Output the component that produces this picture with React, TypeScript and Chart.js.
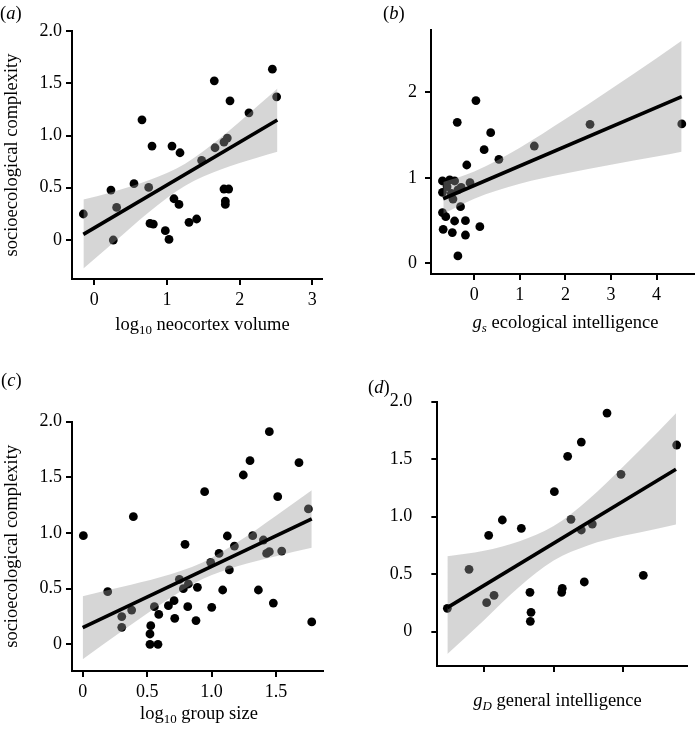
import React, { useEffect, useRef } from 'react';
import { Chart, registerables } from 'chart.js';

Chart.register(...registerables);

const SERIF = '"Liberation Serif", "Times New Roman", serif';
const TICK_SIZE = 18;
const TITLE_SIZE = 18.5;

// ---------- panel (a) ----------
const aPointsX = [-0.151, 0.229, 0.261, 0.307, 0.546, 0.656, 0.748, 0.794, 0.766, 0.812, 0.977, 1.028, 1.069, 1.096, 1.165, 1.179, 1.303, 1.408, 1.477, 1.651, 1.661, 1.784, 1.83, 1.784, 1.849, 1.803, 1.803, 1.867, 2.128, 2.45, 2.509];
const aPointsY = [0.249, 0.478, 0.0, 0.312, 0.539, 1.15, 0.503, 0.899, 0.159, 0.153, 0.089, 0.006, 0.899, 0.395, 0.341, 0.835, 0.169, 0.201, 0.762, 1.523, 0.883, 0.937, 0.975, 0.488, 0.488, 0.373, 0.341, 1.332, 1.217, 1.635, 1.37];
const aBandX = [-0.15, 0.25, 0.75, 1.25, 1.75, 2.25, 2.52];
const aBandUpper = [0.387, 0.46, 0.572, 0.73, 0.985, 1.284, 1.451];
const aBandLower = [-0.273, -0.034, 0.266, 0.52, 0.677, 0.79, 0.845];
const aFitX = [-0.151, 2.518];
const aFitY = [0.054, 1.148];
const aXTicks = [0, 1, 2, 3];
const aXLabels = ['0', '1', '2', '3'];
const aYTicks = [0, 0.5, 1, 1.5, 2];
const aYLabels = ['0', '0.5', '1.0', '1.5', '2.0'];

// ---------- panel (b) ----------
const bPointsX = [0.036, -0.374, 0.36, 0.216, -0.165, 0.54, 1.317, 2.54, 4.554, -0.698, -0.54, -0.432, -0.698, -0.597, -0.504, -0.468, -0.36, -0.288, -0.094, -0.302, -0.698, -0.626, -0.432, -0.194, -0.683, -0.482, -0.194, 0.122, -0.36];
const bPointsY = [1.903, 1.649, 1.528, 1.329, 1.15, 1.216, 1.372, 1.626, 1.63, 0.963, 0.975, 0.963, 0.83, 0.897, 0.819, 0.752, 0.858, 0.889, 0.943, 0.663, 0.593, 0.546, 0.495, 0.499, 0.398, 0.359, 0.331, 0.429, 0.086];
const bBandX = [-0.68, 0, 1, 2, 3, 4, 4.55];
const bBandUpper = [0.95, 1.074, 1.353, 1.688, 2.04, 2.398, 2.602];
const bBandLower = [0.58, 0.756, 0.931, 1.05, 1.152, 1.248, 1.304];
const bFitX = [-0.683, 4.554];
const bFitY = [0.755, 1.949];
const bXTicks = [0, 1, 2, 3, 4];
const bXLabels = ['0', '1', '2', '3', '4'];
const bYTicks = [0, 1, 2];
const bYLabels = ['0', '1', '2'];

// ---------- panel (c) ----------
const cPointsX = [0.005, 0.194, 0.303, 0.303, 0.38, 0.393, 0.522, 0.528, 0.522, 0.584, 0.556, 0.59, 0.665, 0.709, 0.714, 0.75, 0.781, 0.794, 0.815, 0.82, 0.89, 0.879, 0.946, 0.993, 1.001, 1.058, 1.086, 1.122, 1.138, 1.177, 1.246, 1.298, 1.319, 1.363, 1.402, 1.427, 1.448, 1.448, 1.479, 1.513, 1.544, 1.678, 1.751, 1.777];
const cPointsY = [0.976, 0.473, 0.249, 0.153, 0.308, 1.147, 0.093, 0.168, 0.0, 0.0, 0.338, 0.269, 0.347, 0.392, 0.234, 0.584, 0.5, 0.898, 0.338, 0.542, 0.512, 0.213, 1.371, 0.737, 0.332, 0.817, 0.488, 0.973, 0.668, 0.883, 1.521, 1.65, 0.976, 0.488, 0.937, 0.817, 1.91, 0.832, 0.371, 1.326, 0.838, 1.632, 1.216, 0.201];
const cBandX = [0, 0.3, 0.6, 0.93, 1.2, 1.5, 1.777];
const cBandUpper = [0.433, 0.515, 0.602, 0.736, 0.917, 1.156, 1.385];
const cBandLower = [-0.133, 0.115, 0.356, 0.586, 0.701, 0.792, 0.867];
const cFitX = [0, 1.777];
const cFitY = [0.15, 1.126];
const cXTicks = [0, 0.5, 1, 1.5];
const cXLabels = ['0', '0.5', '1.0', '1.5'];
const cYTicks = [0, 0.5, 1, 1.5, 2];
const cYLabels = ['0', '0.5', '1.0', '1.5', '2.0'];

// ---------- panel (d) ----------
const dPointsX = [-1.526, -1.215, -0.962, -0.856, -0.933, -0.737, -0.464, -0.34, -0.325, -0.335, 0.01, 0.115, 0.124, 0.201, 0.249, 0.397, 0.397, 0.44, 0.555, 0.766, 0.967, 1.287, 1.766];
const dPointsY = [0.203, 0.542, 0.252, 0.316, 0.838, 0.971, 0.899, 0.342, 0.168, 0.09, 1.217, 0.342, 0.377, 1.525, 0.977, 1.649, 0.884, 0.432, 0.936, 1.901, 1.368, 0.49, 1.623];
const dBandX = [-1.526, -1, -0.5, 0, 0.5, 1, 1.5, 1.756];
const dBandUpper = [0.655, 0.703, 0.784, 0.918, 1.15, 1.437, 1.738, 1.9];
const dBandLower = [-0.195, 0.1, 0.386, 0.618, 0.752, 0.833, 0.898, 0.932];
const dFitX = [-1.526, 1.756];
const dFitY = [0.209, 1.412];
const dXTicks = [-1, 0, 1];
const dXLabels = ['', '', ''];
const dYTicks = [0, 0.5, 1, 1.5, 2];
const dYLabels = ['0', '0.5', '1.0', '1.5', '2.0'];

type PanelCfg = {
  left: number; top: number; width: number; height: number;
  padTop: number; padRight: number; yWidth: number; xHeight: number;
  xMin: number; xMax: number; yMin: number; yMax: number;
  xTicks: number[]; xLabels: string[]; yTicks: number[]; yLabels: string[];
  xTickPad: number; yTickPad: number; yTitle?: string;
  px: number[]; py: number[]; bandX: number[]; bandU: number[]; bandL: number[];
  fitX: number[]; fitY: number[];
};

const panels: PanelCfg[] = [
  {
    left: 0, top: 0, width: 340, height: 345, padTop: 31, padRight: 18, yWidth: 72, xHeight: 66,
    xMin: -0.307, xMax: 3.133, yMin: -0.373, yMax: 2.0,
    xTicks: aXTicks, xLabels: aXLabels, yTicks: aYTicks, yLabels: aYLabels,
    xTickPad: 4.5, yTickPad: 4, yTitle: 'socioecological complexity',
    px: aPointsX, py: aPointsY, bandX: aBandX, bandU: aBandUpper, bandL: aBandLower, fitX: aFitX, fitY: aFitY,
  },
  {
    left: 350, top: 0, width: 348, height: 345, padTop: 30, padRight: 0, yWidth: 81, xHeight: 71,
    xMin: -0.95, xMax: 4.813, yMin: -0.125, yMax: 2.729,
    xTicks: bXTicks, xLabels: bXLabels, yTicks: bYTicks, yLabels: bYLabels,
    xTickPad: 4.5, yTickPad: 8,
    px: bPointsX, py: bPointsY, bandX: bBandX, bandU: bBandUpper, bandL: bBandLower, fitX: bFitX, fitY: bFitY,
  },
  {
    left: 0, top: 360, width: 340, height: 375, padTop: 61.67, padRight: 17.3, yWidth: 72, xHeight: 64,
    xMin: -0.083, xMax: 1.862, yMin: -0.2395, yMax: 2.0,
    xTicks: cXTicks, xLabels: cXLabels, yTicks: cYTicks, yLabels: cYLabels,
    xTickPad: 4.2, yTickPad: 4, yTitle: 'socioecological complexity',
    px: cPointsX, py: cPointsY, bandX: cBandX, bandU: cBandUpper, bandL: cBandLower, fitX: cFitX, fitY: cFitY,
  },
  {
    left: 350, top: 360, width: 348, height: 375, padTop: 41.67, padRight: 10.67, yWidth: 87.33, xHeight: 69,
    xMin: -1.67, xMax: 1.919, yMin: -0.2986, yMax: 2.0,
    xTicks: dXTicks, xLabels: dXLabels, yTicks: dYTicks, yLabels: dYLabels,
    xTickPad: 5, yTickPad: 19,
    px: dPointsX, py: dPointsY, bandX: dBandX, bandU: dBandUpper, bandL: dBandLower, fitX: dFitX, fitY: dFitY,
  },
];

function Panel({ cfg }: { cfg: PanelCfg }) {
  const ref = useRef<HTMLCanvasElement>(null);
  useEffect(() => {
    const canvas = ref.current;
    if (!canvas) return;
    const pts = (xs: number[], ys: number[]) => xs.map((x, i) => ({ x, y: ys[i] }));
    const axisCommon = {
      grid: { drawOnChartArea: false, drawTicks: true, tickLength: 6, color: '#000', lineWidth: 2 },
      border: { display: true, color: '#000', width: 2 },
    };
    const chart = new Chart(canvas, {
      type: 'line',
      data: {
        datasets: [
          {
            label: 'fit', data: pts(cfg.fitX, cfg.fitY), borderColor: '#000', borderWidth: 3.6,
            pointRadius: 0, fill: false, borderCapStyle: 'butt',
          },
          {
            label: 'lower', data: pts(cfg.bandX, cfg.bandL), borderColor: 'rgba(0,0,0,0)', borderWidth: 0,
            pointRadius: 0, fill: false, cubicInterpolationMode: 'monotone',
          },
          {
            label: 'upper', data: pts(cfg.bandX, cfg.bandU), borderColor: 'rgba(0,0,0,0)', borderWidth: 0,
            pointRadius: 0, fill: '-1', backgroundColor: 'rgba(153,153,153,0.4)', cubicInterpolationMode: 'monotone',
          },
          {
            label: 'points', data: pts(cfg.px, cfg.py), showLine: false, pointRadius: 4.4,
            pointBackgroundColor: '#000', pointBorderColor: '#000', pointBorderWidth: 0,
          },
        ] as any,
      },
      options: {
        animation: false,
        responsive: false,
        maintainAspectRatio: false,
        events: [],
        layout: { padding: { top: cfg.padTop, right: cfg.padRight, left: 0, bottom: 0 } },
        plugins: { legend: { display: false }, tooltip: { enabled: false } },
        scales: {
          x: {
            type: 'linear', position: 'bottom', min: cfg.xMin, max: cfg.xMax,
            afterBuildTicks: (s: any) => { s.ticks = cfg.xTicks.map((v) => ({ value: v })); },
            afterFit: (s: any) => { s.height = cfg.xHeight; },
            ticks: {
              callback: (_v: any, i: number) => cfg.xLabels[i],
              color: '#000', font: { family: SERIF, size: TICK_SIZE }, padding: cfg.xTickPad,
              autoSkip: false, maxRotation: 0, minRotation: 0,
            },
            ...axisCommon,
          },
          y: {
            type: 'linear', position: 'left', min: cfg.yMin, max: cfg.yMax,
            afterBuildTicks: (s: any) => { s.ticks = cfg.yTicks.map((v) => ({ value: v })); },
            afterFit: (s: any) => { s.width = cfg.yWidth; },
            ticks: {
              callback: (_v: any, i: number) => cfg.yLabels[i],
              color: '#000', font: { family: SERIF, size: TICK_SIZE }, padding: cfg.yTickPad,
              autoSkip: false,
            },
            title: cfg.yTitle
              ? { display: true, text: cfg.yTitle, color: '#000', font: { family: SERIF, size: TITLE_SIZE }, padding: { top: 1.5, bottom: 0 } }
              : { display: false },
            ...axisCommon,
          },
        },
      } as any,
    });
    return () => chart.destroy();
  }, [cfg]);
  return (
    <canvas
      ref={ref}
      width={cfg.width}
      height={cfg.height}
      style={{ position: 'absolute', left: cfg.left, top: cfg.top, width: cfg.width, height: cfg.height }}
    />
  );
}

const textStyle: React.CSSProperties = {
  position: 'absolute', fontFamily: SERIF, fontSize: TITLE_SIZE, lineHeight: `${TITLE_SIZE}px`,
  color: '#000', whiteSpace: 'nowrap',
};
const subStyle: React.CSSProperties = { fontSize: '0.7em', position: 'relative', top: '0.32em', lineHeight: 0 };

export default function App() {
  return (
    <div style={{ position: 'absolute', left: 0, top: 0, width: 698, height: 735, background: '#fff', overflow: 'hidden' }}>
      {panels.map((p, i) => <Panel key={i} cfg={p} />)}
      <div style={{ ...textStyle, left: 0, top: 4 }}>(<i>a</i>)</div>
      <div style={{ ...textStyle, left: 383, top: 4 }}>(<i>b</i>)</div>
      <div style={{ ...textStyle, left: 1, top: 371 }}>(<i>c</i>)</div>
      <div style={{ ...textStyle, left: 368, top: 378 }}>(<i>d</i>)</div>
      <div style={{ ...textStyle, left: 202.5, top: 314.5, transform: 'translateX(-50%)' }}>
        log<span style={subStyle}>10</span> neocortex volume
      </div>
      <div style={{ ...textStyle, left: 565.5, top: 312.5, transform: 'translateX(-50%)' }}>
        <i>g</i><span style={subStyle}><i>s</i></span> ecological intelligence
      </div>
      <div style={{ ...textStyle, left: 199, top: 703.5, transform: 'translateX(-50%)' }}>
        log<span style={subStyle}>10</span> group size
      </div>
      <div style={{ ...textStyle, left: 557.5, top: 691, transform: 'translateX(-50%)' }}>
        <i>g</i><span style={subStyle}><i>D</i></span> general intelligence
      </div>
    </div>
  );
}
